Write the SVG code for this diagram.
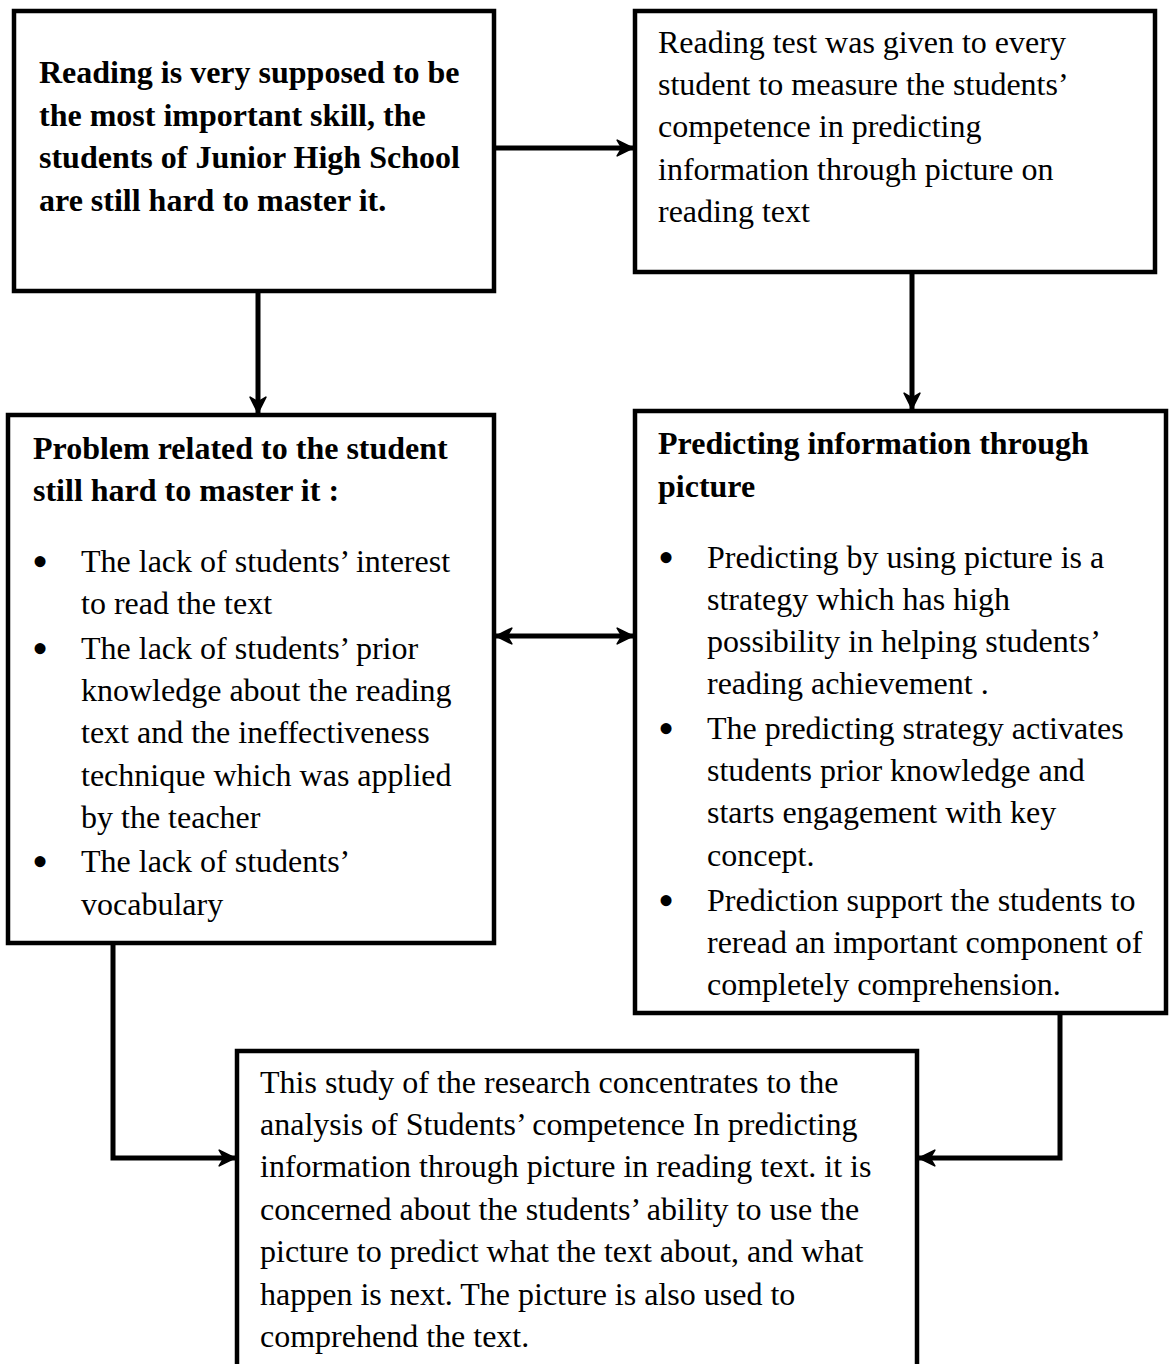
<svg xmlns="http://www.w3.org/2000/svg" width="1170" height="1364" viewBox="0 0 1170 1364">
<defs>
<style>
.box{fill:#fff;stroke:#000;stroke-width:4.5}
.t{font-family:"Liberation Serif","Times New Roman",serif;font-size:32px;fill:#000}
.b{font-weight:bold}
.bl{font-family:"Liberation Serif","Times New Roman",serif;font-size:46px;fill:#000}
.c{fill:none;stroke:#000;stroke-width:5}
</style>
<marker id="ah" viewBox="0 0 12 12" refX="11" refY="6" markerWidth="3.8" markerHeight="3.8" orient="auto-start-reverse" markerUnits="strokeWidth">
<path d="M1,1 L11,6 L1,11 L4,6 Z" fill="#000" stroke="#000" stroke-width="1" stroke-linejoin="round"/>
</marker>
</defs>
<rect width="1170" height="1364" fill="#fff"/>
<g id="connectors">
<path class="c" d="M494,148 H633" marker-end="url(#ah)"/>
<path class="c" d="M258,291 V413" marker-end="url(#ah)"/>
<path class="c" d="M912,272 V409" marker-end="url(#ah)"/>
<path class="c" d="M496,636 H633" marker-start="url(#ah)" marker-end="url(#ah)"/>
<path class="c" d="M113,943 V1158 H235" marker-end="url(#ah)"/>
<path class="c" d="M1060,1013 V1158 H919" marker-end="url(#ah)"/>
</g>
<g id="node1">
<rect class="box" x="14" y="11" width="480" height="280"/>
<text class="t b" x="39" y="83">Reading is very supposed to be</text>
<text class="t b" x="39" y="126">the most important skill, the</text>
<text class="t b" x="39" y="168">students of Junior High School</text>
<text class="t b" x="39" y="211">are still hard to master it.</text>
</g>
<g id="node2">
<rect class="box" x="635" y="11" width="520" height="261"/>
<text class="t" x="658" y="53">Reading test was given to every</text>
<text class="t" x="658" y="95">student to measure the students’</text>
<text class="t" x="658" y="137">competence in predicting</text>
<text class="t" x="658" y="180">information through picture on</text>
<text class="t" x="658" y="222">reading text</text>
</g>
<g id="node3">
<rect class="box" x="8" y="415" width="486" height="528"/>
<text class="t b" x="33" y="459">Problem related to the student</text>
<text class="t b" x="33" y="501">still hard to master it :</text>
<text class="bl" x="32" y="577">•</text>
<text class="t" x="81" y="572">The lack of students’ interest</text>
<text class="t" x="81" y="614">to read the text</text>
<text class="bl" x="32" y="664">•</text>
<text class="t" x="81" y="659">The lack of students’ prior</text>
<text class="t" x="81" y="701">knowledge about the reading</text>
<text class="t" x="81" y="743">text and the ineffectiveness</text>
<text class="t" x="81" y="786">technique which was applied</text>
<text class="t" x="81" y="828">by the teacher</text>
<text class="bl" x="32" y="877">•</text>
<text class="t" x="81" y="872">The lack of students’</text>
<text class="t" x="81" y="915">vocabulary</text>
</g>
<g id="node4">
<rect class="box" x="635" y="411" width="531" height="602"/>
<text class="t b" x="658" y="454">Predicting information through</text>
<text class="t b" x="658" y="497">picture</text>
<text class="bl" x="658" y="573">•</text>
<text class="t" x="707" y="568">Predicting by using picture is a</text>
<text class="t" x="707" y="610">strategy which has high</text>
<text class="t" x="707" y="652">possibility in helping students’</text>
<text class="t" x="707" y="694">reading achievement .</text>
<text class="bl" x="658" y="744">•</text>
<text class="t" x="707" y="739">The predicting strategy activates</text>
<text class="t" x="707" y="781">students prior knowledge and</text>
<text class="t" x="707" y="823">starts engagement with key</text>
<text class="t" x="707" y="866">concept.</text>
<text class="bl" x="658" y="916">•</text>
<text class="t" x="707" y="911">Prediction support the students to</text>
<text class="t" x="707" y="953">reread an important component of</text>
<text class="t" x="707" y="995">completely comprehension.</text>
</g>
<g id="node5">
<path class="box" d="M237,1366 V1051 H917 V1366"/>
<text class="t" x="260" y="1093">This study of the research concentrates to the</text>
<text class="t" x="260" y="1135">analysis of Students’ competence In predicting</text>
<text class="t" x="260" y="1177">information through picture in reading text. it is</text>
<text class="t" x="260" y="1220">concerned about the students’ ability to use the</text>
<text class="t" x="260" y="1262">picture to predict what the text about, and what</text>
<text class="t" x="260" y="1305">happen is next. The picture is also used to</text>
<text class="t" x="260" y="1347">comprehend the text.</text>
</g>
</svg>
